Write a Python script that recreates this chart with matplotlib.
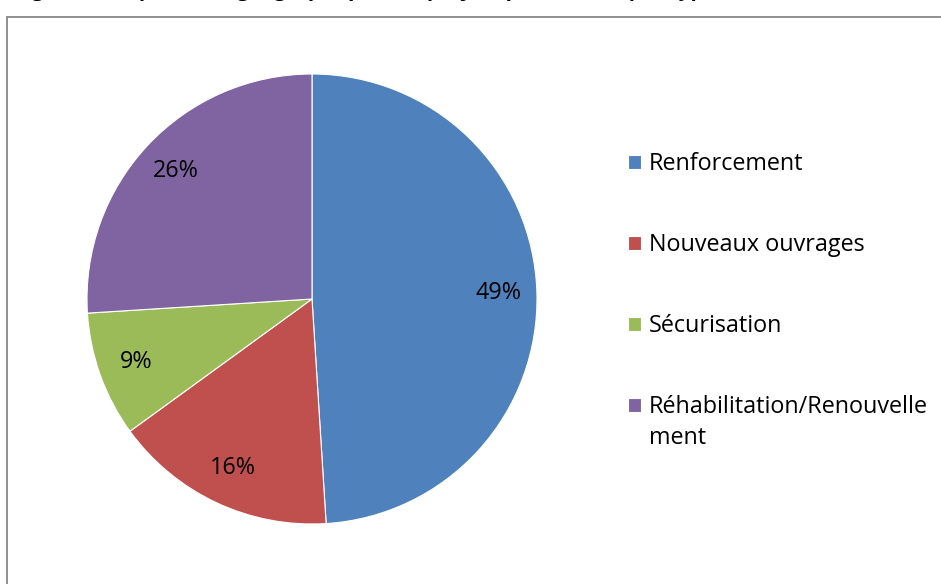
import matplotlib.pyplot as plt
from matplotlib.patches import Rectangle

# Données
categories = ['Renforcement', 'Nouveaux ouvrages', 'Sécurisation',
              'Réhabilitation/Renouvellement']
legend_labels = ['Renforcement', 'Nouveaux ouvrages', 'Sécurisation',
                 'Réhabilitation/Renouvelle']
suite_label = 'ment'
valeurs = [49, 16, 9, 26]
couleurs = ['#4f81bd', '#c0504d', '#9bbb59', '#8064a2']

plt.rcParams['font.family'] = ['Open Sans', 'DejaVu Sans']

W, H = 941, 584
fig = plt.figure(figsize=(W / 100, H / 100), dpi=100)

# cadre du graphique (coupé à droite et en bas)
fig.patches.append(Rectangle((7 / W, -0.1), 1.2, 1 - 17 / H + 0.1,
                             transform=fig.transFigure, fill=False,
                             edgecolor='#878787', linewidth=1.3))

# titre, presque entièrement hors de l'image
fig.text(14 / W, 1 + 4.3 / H,
         'Figure 3 : Répartition géographique des projets prioritaires par type',
         fontsize=15, fontweight='bold', va='baseline', ha='left')

# camembert
cx, cy, r = 312, 299, 225
ax = fig.add_axes([(cx - r) / W, (H - cy - r) / H, 2 * r / W, 2 * r / H])
wedges, _, autotexts = ax.pie(valeurs, colors=couleurs, startangle=90,
                              counterclock=False, autopct='%1.0f%%',
                              pctdistance=0.83,
                              textprops={'fontsize': 16.8, 'color': 'black'},
                              wedgeprops={'linewidth': 0.8, 'edgecolor': 'white'})
ax.set_xlim(-1, 1)
ax.set_ylim(-1, 1)
ax.set_aspect('equal')

leg = fig.legend(wedges, legend_labels, loc='upper left',
                 bbox_to_anchor=(628 / W, 1 - 152 / H),
                 frameon=False, fontsize=16.8, handlelength=0.55,
                 handleheight=0.55, handletextpad=0.35, labelspacing=2.45,
                 borderpad=0, borderaxespad=0)

# deuxième ligne de la dernière étiquette
fig.canvas.draw()
bb = leg.get_texts()[-1].get_window_extent()
fig.text(bb.x0 / W, (bb.y0 - 31) / H, suite_label, fontsize=16.8,
         ha='left', va='bottom')

fig.savefig('out.png', dpi=100)
